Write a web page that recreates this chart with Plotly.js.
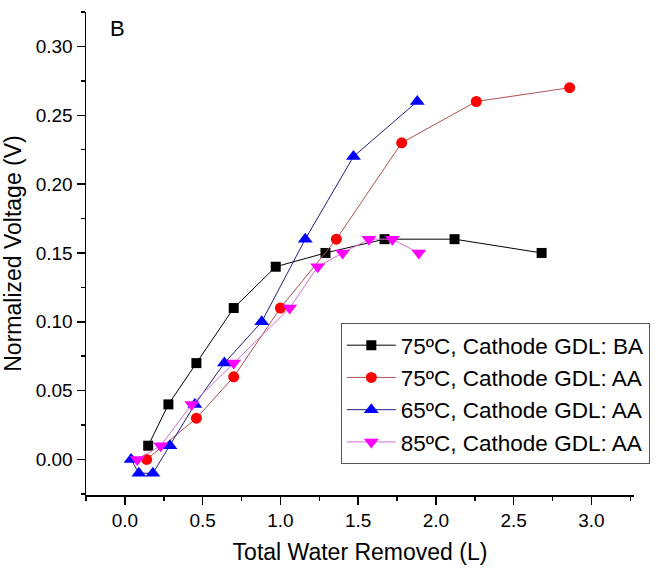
<!DOCTYPE html>
<html>
<head>
<meta charset="utf-8">
<script src="https://cdn.plot.ly/plotly-3.0.1.min.js"></script>
<style>html,body{margin:0;padding:0;background:#fff;}#chart{width:667px;height:578px;}</style>
</head>
<body>
<div id="chart"></div>
<script>
// Series: 75ºC, Cathode GDL: BA
const ba75X = [0.15, 0.28, 0.46, 0.70, 0.97, 1.29, 1.67, 2.12, 2.68];
const ba75Y = [0.01, 0.04, 0.07, 0.11, 0.14, 0.15, 0.16, 0.16, 0.15];
// Series: 75ºC, Cathode GDL: AA
const aa75X = [0.14, 0.46, 0.70, 1.00, 1.36, 1.78, 2.26, 2.86];
const aa75Y = [0.00, 0.03, 0.06, 0.11, 0.16, 0.23, 0.26, 0.27];
// Series: 65ºC, Cathode GDL: AA
const aa65X = [0.04, 0.09, 0.18, 0.29, 0.45, 0.64, 0.88, 1.16, 1.47, 1.88];
const aa65Y = [0.00, -0.01, -0.01, 0.01, 0.04, 0.07, 0.10, 0.16, 0.22, 0.26];
// Series: 85ºC, Cathode GDL: AA
const aa85X = [0.08, 0.23, 0.43, 0.70, 1.06, 1.24, 1.40, 1.57, 1.72, 1.89];
const aa85Y = [0.00, 0.01, 0.04, 0.07, 0.11, 0.14, 0.15, 0.16, 0.16, 0.15];

const names = ['75ºC, Cathode GDL: BA', '75ºC, Cathode GDL: AA', '65ºC, Cathode GDL: AA', '85ºC, Cathode GDL: AA'];
const xTitle = 'Total Water Removed (L)';
const yTitle = 'Normalized Voltage (V)';
const panelLabel = 'B';

const FONT = 'Arial, "Liberation Sans", sans-serif';

const traces = [
  {x: ba75X, y: ba75Y, name: names[0], mode: 'lines+markers',
   line: {color: '#000000', width: 1},
   marker: {symbol: 'square', size: 10, color: '#000000'}},
  {x: aa75X, y: aa75Y, name: names[1], mode: 'lines+markers',
   line: {color: '#b05050', width: 1},
   marker: {symbol: 'circle', size: 11, color: '#ff0000'}},
  {x: aa65X, y: aa65Y, name: names[2], mode: 'lines+markers',
   line: {color: '#202080', width: 1},
   marker: {symbol: 'triangle-up', size: 13, color: '#0000ff'}},
  {x: aa85X, y: aa85Y, name: names[3], mode: 'lines+markers',
   line: {color: '#d070d0', width: 1},
   marker: {symbol: 'triangle-down', size: 13, color: '#ff00ff'}}
];

const layout = {
  width: 667, height: 578,
  margin: {l: 86, r: 33, t: 12, b: 83},
  paper_bgcolor: '#ffffff', plot_bgcolor: '#ffffff',
  font: {family: FONT, color: '#000000'},
  showlegend: true,
  hovermode: false,
  xaxis: {
    range: [-0.25, 3.274],
    dtick: 0.5, tick0: 0, tickformat: '.1f',
    ticks: 'outside', ticklen: 8, tickwidth: 1.5, tickcolor: '#000',
    minor: {dtick: 0.25, tick0: 0, ticks: 'outside', ticklen: 4, tickwidth: 1.5, tickcolor: '#000', showgrid: false},
    showline: true, linecolor: '#000', linewidth: 1.5,
    showgrid: false, zeroline: false,
    tickfont: {size: 19, family: FONT},
    title: {text: xTitle, font: {size: 23, family: FONT}, standoff: 13}
  },
  yaxis: {
    range: [-0.0258, 0.325],
    dtick: 0.05, tick0: 0, tickformat: '.2f',
    ticks: 'outside', ticklen: 8, tickwidth: 1.5, tickcolor: '#000',
    minor: {dtick: 0.025, tick0: 0, ticks: 'outside', ticklen: 4, tickwidth: 1.5, tickcolor: '#000', showgrid: false},
    showline: true, linecolor: '#000', linewidth: 1.5,
    showgrid: false, zeroline: false,
    tickfont: {size: 19, family: FONT},
    title: {text: yTitle, font: {size: 23, family: FONT}, standoff: 10}
  },
  legend: {
    x: 0.465, y: 0.356, xanchor: 'left', yanchor: 'top',
    bordercolor: '#555555', borderwidth: 1, bgcolor: '#ffffff',
    font: {size: 22.5, family: FONT},
    itemwidth: 49, tracegroupgap: 0
  },
  annotations: [{
    text: panelLabel, xref: 'paper', yref: 'paper',
    x: 0.0566, y: 0.965, xanchor: 'center', yanchor: 'middle',
    showarrow: false, font: {size: 22, family: FONT}
  }]
};

Plotly.newPlot('chart', traces, layout, {displayModeBar: false, staticPlot: true});
</script>
</body>
</html>
